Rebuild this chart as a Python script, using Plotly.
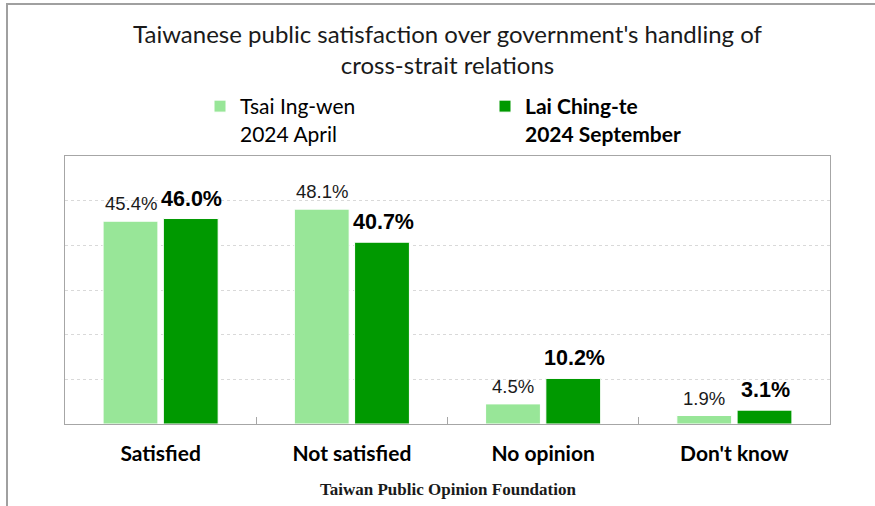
import plotly.graph_objects as go

# Survey results (percent)
categories = ["Satisfied", "Not satisfied", "No opinion", "Don't know"]
tsai_2024_april = [45.4, 48.1, 4.5, 1.9]
lai_2024_september = [46.0, 40.7, 10.2, 3.1]

series_names = ["Tsai Ing-wen<br>2024 April", "<b>Lai Ching-te<br>2024 September</b>"]
light_green = "#98E698"
dark_green = "#009900"

title_text = "Taiwanese public satisfaction over government's handling of<br>cross-strait relations"
source_text = "<b>Taiwan Public Opinion Foundation</b>"

W, H = 875, 506
M_L, M_R, M_T, M_B = 65, 45, 156, 82
plot_w = W - M_L - M_R
plot_h = H - M_T - M_B

fig = go.Figure()
fig.add_trace(go.Bar(
    x=categories, y=tsai_2024_april, name=series_names[0],
    marker=dict(color=light_green, line=dict(color="white", width=1)),
))
fig.add_trace(go.Bar(
    x=categories, y=lai_2024_september, name=series_names[1],
    marker=dict(color=dark_green, line=dict(color="white", width=1)),
))

# value labels above each bar
group_w = plot_w / len(categories) * (1 - 0.37)
slot = group_w / 2
annotations = []
for cat, v in zip(categories, tsai_2024_april):
    annotations.append(dict(
        x=cat, y=v, xref="x", yref="y", text=f"{v:.1f}%", showarrow=False,
        xshift=-slot / 2, yanchor="bottom", yshift=5,
        font=dict(family="Liberation Sans, Arial", size=18.5, color="#1a1a1a"),
    ))
for cat, v in zip(categories, lai_2024_september):
    annotations.append(dict(
        x=cat, y=v, xref="x", yref="y", text=f"<b>{v:.1f}%</b>", showarrow=False,
        xshift=slot / 2 + 1, yanchor="bottom", yshift=6,
        font=dict(family="Liberation Sans, Arial", size=21.5, color="#000000"),
    ))
annotations.append(dict(
    x=0.5, y=-(489 - (H - M_B)) / plot_h, xref="paper", yref="paper",
    text=source_text, showarrow=False, yanchor="middle",
    font=dict(family="Liberation Serif, Times New Roman", size=17, color="#1a1a1a"),
))

# outer frame around the whole graphic
frame = dict(
    type="rect", xref="paper", yref="paper",
    x0=(7 - M_L) / plot_w, x1=1.6,
    y0=-0.5, y1=1 + (M_T - 4) / plot_h,
    line=dict(color="#a0a0a0", width=2), fillcolor="rgba(0,0,0,0)", layer="below",
)

fig.update_layout(
    width=W, height=H,
    margin=dict(l=M_L, r=M_R, t=M_T, b=M_B),
    paper_bgcolor="white", plot_bgcolor="white",
    barmode="group", bargap=0.37, bargroupgap=0.09,
    title=dict(
        text=title_text, x=0.5, xanchor="center", xref="paper",
        y=1 - 43 / H, yanchor="top", yref="container",
        font=dict(family="Lato", size=24, color="#1a1a1a"),
    ),
    legend=dict(
        orientation="h", x=(200 - M_L) / plot_w, xanchor="left", y=1.0075, yanchor="bottom",
        valign="top", entrywidth=240, traceorder="normal",
        font=dict(family="Lato", size=21, color="#000000"),
        bgcolor="rgba(0,0,0,0)",
    ),
    annotations=annotations,
    shapes=[frame],
    xaxis=dict(
        showline=True, linecolor="#a6a6a6", linewidth=1.3, mirror=True,
        ticks="inside", tickson="boundaries", ticklen=7, tickcolor="#a6a6a6",
        tickfont=dict(family="Lato", size=21, color="#000000", weight="bold"),
        ticklabelstandoff=11,
    ),
    yaxis=dict(
        range=[0, 60], dtick=10, showticklabels=False,
        showline=True, linecolor="#a6a6a6", linewidth=1.3, mirror=True,
        showgrid=True, gridcolor="#d9d9d9", griddash="dot", gridwidth=1,
        zeroline=False, ticks="",
    ),
)

fig.write_html("out.html")
